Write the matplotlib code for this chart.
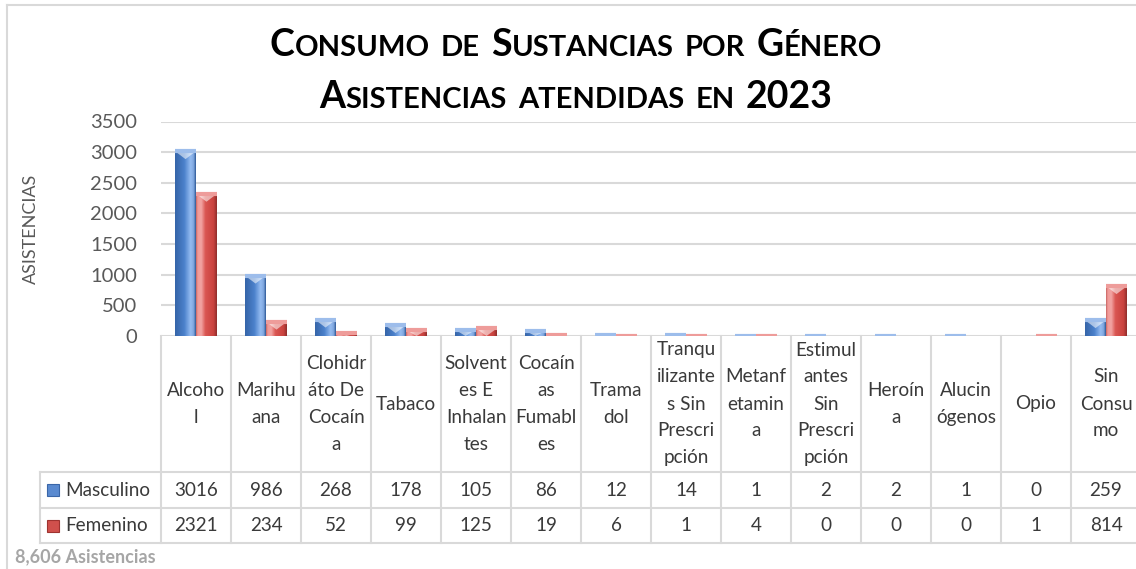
import numpy as np
import matplotlib
matplotlib.use('Agg')
import matplotlib.pyplot as plt
from matplotlib.colors import LinearSegmentedColormap
from matplotlib.patches import Rectangle, Polygon
from matplotlib.lines import Line2D
from matplotlib.offsetbox import TextArea, HPacker, AnnotationBbox

plt.rcParams['font.family'] = ['Lato', 'DejaVu Sans']

# ========================
# datos
# ========================
etiquetas = ['Alcoho\nl', 'Marihu\nana', 'Clohidr\náto De\nCocaín\na', 'Tabaco',
             'Solvent\nes E\nInhalan\ntes', 'Cocaín\nas\nFumabl\nes', 'Trama\ndol',
             'Tranqu\nilizante\ns Sin\nPrescri\npción', 'Metanf\netamin\na',
             'Estimul\nantes\nSin\nPrescri\npción', 'Heroín\na', 'Alucin\nógenos',
             'Opio', 'Sin\nConsu\nmo']
masculino = [3016, 986, 268, 178, 105, 86, 12, 14, 1, 2, 2, 1, 0, 259]
femenino = [2321, 234, 52, 99, 125, 19, 6, 1, 4, 0, 0, 0, 1, 814]
series = ['Masculino', 'Femenino']
yticks = [0, 500, 1000, 1500, 2000, 2500, 3000, 3500]
titulo1 = 'Consumo de Sustancias por Género'
titulo2 = 'Asistencias atendidas en 2023'
ylabel = 'ASISTENCIAS'

W, H = 1136, 569


def fx(px):
    return px / W


def fy(py):
    return 1 - py / H


GRIS = '#D9D9D9'
TEXTO = '#3A3A3A'

fig = plt.figure(figsize=(W / 100, H / 100), dpi=100)

# borde del area del grafico
fig.add_artist(Line2D([fx(7), fx(7)], [fy(5), 0], color=GRIS, lw=1.5))
fig.add_artist(Line2D([fx(7), 1], [fy(5), fy(5)], color=GRIS, lw=1.5))

# ========================
# barras
# ========================
ax = fig.add_axes([fx(161), fy(336), 980 / W, (336 - 121.5) / H])
n = len(etiquetas)
x = np.arange(n)
ancho = 0.3

cmap_azul = LinearSegmentedColormap.from_list('azul', [
    (0, '#3564A8'), (0.45, '#4C82CC'), (0.75, '#95BCF1'), (0.9, '#7EA6DE'), (1, '#2E5A98')])
cmap_rojo = LinearSegmentedColormap.from_list('rojo', [
    (0, '#C86562'), (0.08, '#F19A98'), (0.25, '#F2A4A2'), (0.45, '#DA5652'),
    (0.85, '#C9423E'), (1, '#8E2E2B')])
claros = ['#9DBDEB', '#EE9C9A']

barras_m = ax.bar(x - ancho / 2, masculino, ancho, color='none', linewidth=0)
barras_f = ax.bar(x + ancho / 2, femenino, ancho, color='none', linewidth=0)

grad = np.linspace(0, 1, 64).reshape(1, -1)
bisel = 130
for barras, cmap, claro in [(barras_m, cmap_azul, claros[0]), (barras_f, cmap_rojo, claros[1])]:
    for p in barras:
        x0 = p.get_x()
        x1 = x0 + p.get_width()
        h = p.get_height()
        if h <= 0:
            continue
        im = ax.imshow(grad, cmap=cmap, extent=[x0, x1, 0, h], aspect='auto',
                       origin='lower', zorder=3, interpolation='bilinear')
        im.set_clip_path(p)
        dh = min(bisel, h)
        xc = (x0 + x1) / 2
        ax.add_patch(Polygon([(x0, h), (x1, h), (xc, h - dh)], closed=True,
                             facecolor='white', alpha=0.55, lw=0, zorder=4))
        ax.hlines(h, x0, x1, colors=claro, lw=3, zorder=4)

ax.set_xlim(-0.5, n - 0.5)
ax.set_ylim(0, 3500)
ax.set_yticks(yticks)
ax.set_xticks([])
ax.yaxis.grid(True, color=GRIS, lw=1.5)
ax.set_axisbelow(True)
for s in ax.spines.values():
    s.set_visible(False)
ax.tick_params(axis='y', length=0, pad=17, labelsize=14.5, labelcolor='#595959')

fig.text(fx(31), fy(229), ylabel, rotation=90, ha='center', va='center',
         fontsize=13, color='#595959')

# ========================
# titulo en versalitas
# ========================
def versalitas(texto, grande, chica):
    palabras = []
    for palabra in texto.split(' '):
        trozos = []
        for c in palabra:
            g = c.isupper() or c.isdigit()
            if trozos and trozos[-1][1] == g:
                trozos[-1][0] += c
            else:
                trozos.append([c, g])
        hijos = [TextArea(t.upper(), textprops=dict(fontsize=grande if g else chica,
                                                   fontweight='bold', color='black'))
                 for t, g in trozos]
        palabras.append(HPacker(children=hijos, align='baseline', pad=0, sep=0))
    return HPacker(children=palabras, align='baseline', pad=0, sep=8)


for texto, py in [(titulo1, 45), (titulo2, 97)]:
    ab = AnnotationBbox(versalitas(texto, 27, 21), (0.507, fy(py)),
                        xycoords='figure fraction', frameon=False,
                        box_alignment=(0.5, 0.5), pad=0, annotation_clip=False)
    ax.add_artist(ab)

# ========================
# tabla de datos
# ========================
tx = fig.add_axes([fx(40), fy(543), 1101 / W, (543 - 336) / H])
xl = -0.5 - 121 / 70
tx.set_xlim(xl, n - 0.5)
tx.set_ylim(207, 0)
tx.axis('off')

y_enc, y_r1, y_r2 = 136, 172, 207
for i in range(n + 1):
    tx.plot([i - 0.5, i - 0.5], [0, y_r2], color=GRIS, lw=1.5, clip_on=False)
for yy in [y_enc, y_r1, y_r2]:
    tx.plot([xl, n - 0.5], [yy, yy], color=GRIS, lw=1.5, clip_on=False)
tx.plot([xl, xl], [y_enc, y_r2], color=GRIS, lw=1.5, clip_on=False)

fs_tabla = 13.6
for i, et in enumerate(etiquetas):
    lineas = et.split('\n')
    k = len(lineas)
    for j, linea in enumerate(lineas):
        tx.text(i, y_enc / 2 + (j - (k - 1) / 2) * 27, linea, ha='center', va='center',
                fontsize=fs_tabla, color=TEXTO)

filas = [masculino, femenino]
colores_leyenda = [('#5A8AD0', '#3A66A8'), ('#D0504C', '#9E3330')]
centros = [(y_enc + y_r1) / 2, (y_r1 + y_r2) / 2]
for nombre, valores, (fc, ec), yc in zip(series, filas, colores_leyenda, centros):
    for i, v in enumerate(valores):
        tx.text(i, yc, str(v), ha='center', va='center', fontsize=fs_tabla, color=TEXTO)
    tx.add_patch(Rectangle((xl + 7 / 70, yc - 6), 12 / 70, 12, facecolor=fc,
                           edgecolor=ec, lw=0.8, clip_on=False))
    tx.text(xl + 25 / 70, yc, nombre, ha='left', va='center', fontsize=fs_tabla, color=TEXTO)

total = sum(masculino) + sum(femenino)
fig.text(fx(15), fy(557), f'{total:,} Asistencias', ha='left', va='center',
         fontsize=13, fontweight='bold', color='#A6A6A6')

fig.savefig('out.png', dpi=100)
